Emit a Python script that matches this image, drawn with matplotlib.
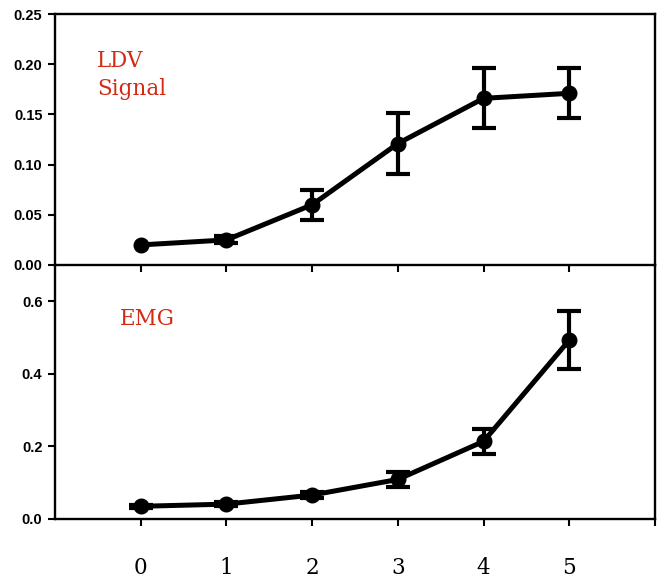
import matplotlib
matplotlib.use("Agg")
import matplotlib.pyplot as plt

x = [0, 1, 2, 3, 4, 5]
ldv = [0.020, 0.025, 0.060, 0.121, 0.166, 0.171]
ldv_err = [float("nan"), 0.0035, 0.015, 0.030, 0.030, 0.025]
emg = [0.035, 0.041, 0.066, 0.109, 0.214, 0.493]
emg_err = [0.004, 0.005, 0.008, 0.020, 0.035, 0.080]
ldv_ticks = [0.00, 0.05, 0.10, 0.15, 0.20, 0.25]
emg_ticks = [0.0, 0.2, 0.4, 0.6]
x_ticks = [0, 1, 2, 3, 4, 5, 6]
x_labels = ["0", "1", "2", "3", "4", "5", ""]

W, H = 658, 582
fig = plt.figure(figsize=(W / 100, H / 100), dpi=100)
L, R = 55, 655
ax2 = fig.add_axes([L / W, (H - 519) / H, (R - L) / W, 254 / H])
ax1 = fig.add_axes([L / W, (H - 265) / H, (R - L) / W, 251 / H])
ax1.set_zorder(2)
ax1.patch.set_visible(False)

red = "#d42a14"
tickfont = dict(family="Liberation Sans", weight="bold", size=10.5)

for ax, y, e in [(ax1, ldv, ldv_err), (ax2, emg, emg_err)]:
    ax.errorbar(x, y, yerr=e, color="black", lw=3.6, marker="o", ms=10.5,
                elinewidth=3, capsize=8.5, capthick=3, zorder=3)
    ax.set_xlim(-1, 6)
    for s in ax.spines.values():
        s.set_linewidth(1.7)
    ax.tick_params(axis="y", direction="out", length=5, width=1.5, pad=4)

ax1.set_ylim(0, 0.25)
ax1.set_yticks(ldv_ticks)
ax1.set_yticklabels([f"{v:.2f}" for v in ldv_ticks], fontdict=tickfont)
ax1.set_xticks(x)
ax1.set_xticklabels([])
ax1.tick_params(axis="x", direction="out", length=5, width=1.5)

ax2.set_ylim(0, 0.70)
ax2.set_yticks(emg_ticks)
ax2.set_yticklabels([f"{v:.1f}" for v in emg_ticks], fontdict=tickfont)
ax2.spines["top"].set_visible(False)
ax2.set_xticks(x_ticks)
ax2.set_xticklabels(x_labels, family="DejaVu Serif", size=15.5)
ax2.tick_params(axis="x", direction="out", length=5, width=1.5, pad=22)

ax1.text(0.07, 0.855, "LDV\nSignal", transform=ax1.transAxes, color=red,
         family="DejaVu Serif", size=15.5, va="top", ha="left", linespacing=1.32)
ax2.text(0.108, 0.83, "EMG", transform=ax2.transAxes, color=red,
         family="DejaVu Serif", size=15.5, va="top", ha="left")

fig.savefig("out.png", dpi=100)
